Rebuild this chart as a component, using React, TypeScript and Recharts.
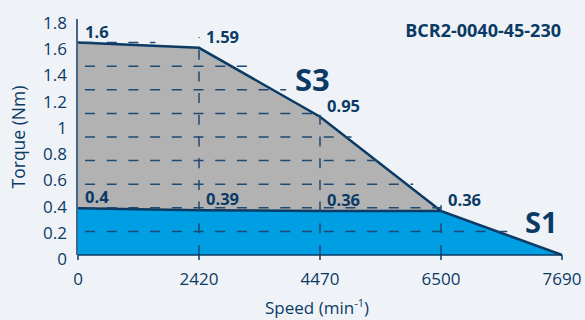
import React from 'react';
import { AreaChart, Area, XAxis, YAxis, ReferenceLine, LabelList, Label } from 'recharts';

const speeds = ['0', '2420', '4470', '6500', '7690'];
const s3Torque = [1.62, 1.58, 1.055, 0.335, null];
const s1Torque = [0.356, 0.342, 0.335, 0.335, 0];
const s3Labels = ['1.6', '1.59', '0.95', '0.36', ''];
const s1Labels = ['0.4', '0.39', '0.36', '', ''];
const torqueTicks = [0, 0.2, 0.4, 0.6, 0.8, 1, 1.2, 1.4, 1.6, 1.8];

// the dashed grid in the original has its own spacing: 10 steps over the axis height
const gridTicks = [0, 0.18, 0.36, 0.54, 0.72, 0.9, 1.08, 1.26, 1.44, 1.62, 1.8];
const hGridY = [0.18, 0.36, 0.54, 0.72, 0.9, 1.08, 1.26, 1.44, 1.62];
const hGridEnd = [3.6, 3.0, 2.77, 2.52, 2.26, 2.03, 1.72, 1.4, 0.64];
const vGridX = [1, 2, 3];
const vGridTop = [1.66, 1.125, 0.38];

const NAVY = '#0b3a65';
const GRID = '#1f4a72';
const FONT = '"Open Sans", sans-serif';

const data = speeds.map((s, i) => ({
  i,
  s3: s3Torque[i],
  s1: s1Torque[i],
  s3Label: s3Labels[i],
  s1Label: s1Labels[i],
}));

function pointLabel(props: any) {
  const { x, y, value } = props;
  if (!value || x == null || y == null) return null;
  return (
    <text x={x + 7} y={y - 5} fill={NAVY} fontSize={16.5} fontWeight={700} fontFamily={FONT}>
      {value}
    </text>
  );
}

function TorqueTick(props: any) {
  const { x, y, payload } = props;
  return (
    <text x={x} y={y + 4} dy="0.355em" textAnchor="end" fill={NAVY} fontSize={17} fontFamily={FONT}>
      {String(Number(payload.value.toFixed(1)))}
    </text>
  );
}

export default function App() {
  return (
    <div style={{ position: 'fixed', left: 0, top: 0, width: 585, height: 320, background: '#eff3f7' }}>
      <AreaChart
        width={585}
        height={320}
        data={data}
        margin={{ top: 19, right: 23, bottom: 0, left: 17 }}
      >
        <XAxis
          dataKey="i"
          type="number"
          domain={[0, 4]}
          ticks={[0, 1, 2, 3, 4]}
          tickFormatter={(v) => speeds[v]}
          stroke={NAVY}
          strokeWidth={1.5}
          tickSize={5}
          tickMargin={13}
          height={65}
          tick={{ fill: NAVY, fontSize: 17, fontFamily: FONT }}
        >
          <Label
            content={(p: any) => {
              const vb = p.viewBox;
              return (
                <text x={vb.x + vb.width / 2 - 3} y={vb.y + 59} textAnchor="middle" fill={NAVY} fontSize={17} fontFamily={FONT}>
                  Speed (min
                  <tspan fontSize={11} dy={-7}>-1</tspan>
                  <tspan dy={7}>)</tspan>
                </text>
              );
            }}
          />
        </XAxis>
        <YAxis
          yAxisId="grid"
          domain={[0, 1.8]}
          ticks={gridTicks}
          width={1}
          axisLine={false}
          tickSize={5}
          stroke={NAVY}
          strokeWidth={1.5}
          tickFormatter={() => ''}
        />
        <YAxis
          yAxisId="torque"
          domain={[0, 1.8]}
          ticks={torqueTicks}
          width={60}
          stroke={NAVY}
          strokeWidth={1.5}
          tickLine={false}
          tickSize={0}
          tickMargin={10}
          tick={TorqueTick}
        >
          <Label
            content={(p: any) => {
              const vb = p.viewBox;
              const cx = vb.x + 1;
              const cy = vb.y + vb.height / 2;
              return (
                <text
                  x={cx}
                  y={cy}
                  transform={`rotate(-90 ${cx} ${cy})`}
                  textAnchor="middle"
                  dominantBaseline="central"
                  fill={NAVY}
                  fontSize={17.5}
                  fontFamily={FONT}
                >
                  Torque (Nm)
                </text>
              );
            }}
          />
        </YAxis>
        <Area
          yAxisId="torque"
          type="linear"
          dataKey="s3"
          fill="#b2b2b2"
          fillOpacity={1}
          stroke={NAVY}
          strokeWidth={2.5}
          isAnimationActive={false}
        >
          <LabelList dataKey="s3Label" content={pointLabel} />
        </Area>
        <Area
          yAxisId="torque"
          type="linear"
          dataKey="s1"
          fill="#009fe3"
          fillOpacity={1}
          stroke={NAVY}
          strokeWidth={2.5}
          isAnimationActive={false}
        >
          <LabelList dataKey="s1Label" content={pointLabel} />
        </Area>
        {hGridY.map((y, k) => (
          <ReferenceLine
            key={'h' + k}
            yAxisId="torque"
            segment={[{ x: 0, y }, { x: hGridEnd[k], y }]}
            stroke={GRID}
            strokeWidth={1.5}
            strokeDasharray="10 11.7"
            strokeDashoffset={14.7}
          />
        ))}
        {vGridX.map((x, k) => (
          <ReferenceLine
            key={'v' + k}
            yAxisId="torque"
            segment={[{ x, y: 0 }, { x, y: vGridTop[k] }]}
            stroke={GRID}
            strokeWidth={1.5}
            strokeDasharray="10 11.7"
          />
        ))}
      </AreaChart>
      <svg width={585} height={320} style={{ position: 'absolute', left: 0, top: 0, pointerEvents: 'none' }}>
        <text x={561} y={36.5} textAnchor="end" fill={NAVY} fontSize={18} fontWeight={700} fontFamily={FONT}>
          BCR2-0040-45-230
        </text>
        <text x={295} y={90.5} fill={NAVY} fontSize={31} fontWeight={700} fontFamily={FONT}>
          S3
        </text>
        <text x={525} y={233.3} fill={NAVY} fontSize={29} fontWeight={700} fontFamily={FONT}>
          S1
        </text>
      </svg>
    </div>
  );
}
